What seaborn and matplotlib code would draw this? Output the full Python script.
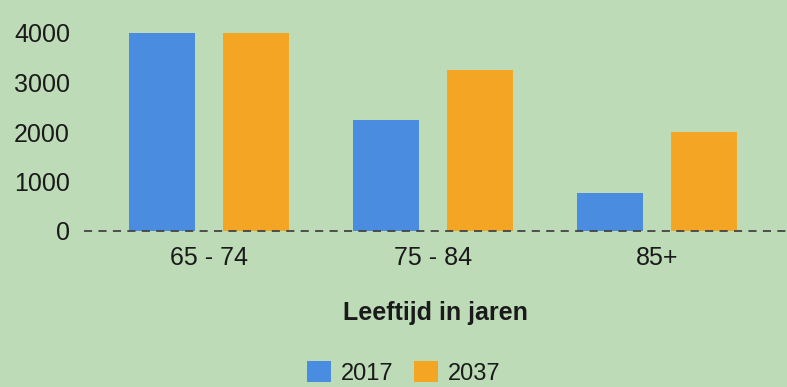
import matplotlib
matplotlib.use("Agg")
import matplotlib.pyplot as plt
import seaborn as sns
import pandas as pd

categories = ["65 - 74", "75 - 84", "85+"]
years = ["2017", "2037"]
values_2017 = [4000, 2250, 770]
values_2037 = [4000, 3250, 2000]
y_ticks = [0, 1000, 2000, 3000, 4000]

df = pd.DataFrame({
    "cat": categories * 2,
    "year": [years[0]] * 3 + [years[1]] * 3,
    "value": values_2017 + values_2037,
})

sns.set_theme(style="white")
plt.rcParams["font.family"] = ["Liberation Sans", "DejaVu Sans"]

bg = "#bddbb7"
W, H = 787, 387
fig = plt.figure(figsize=(W / 100, H / 100), dpi=100, facecolor=bg)
ax = fig.add_axes([84 / W, (H - 231) / H, (W - 84) / W, (231 - 33) / H])
ax.set_facecolor(bg)

palette = {"2017": "#4a8de0", "2037": "#f4a524"}
sns.barplot(data=df, x="cat", y="value", hue="year", order=categories,
            hue_order=years, palette=palette, width=0.84, gap=0.3,
            saturation=1, ax=ax, legend=False)
for p in ax.patches:
    p.set_clip_on(False)
    p.set_linewidth(0)

ax.set_xlim(-0.558, (W - 209) / 224)
ax.set_ylim(0, 4000)
ax.set_yticks(y_ticks)
ax.set_yticklabels([str(v) for v in y_ticks], fontsize=18, color="#1a1a1a")
ax.tick_params(axis="y", length=0, pad=10)
ax.tick_params(axis="x", length=0, pad=11, labelsize=18, colors="#1a1a1a")
for s in ax.spines.values():
    s.set_visible(False)
ax.axhline(0, color="#444444", lw=1.3, ls=(0, (4.5, 3.5)), zorder=5, clip_on=False)
ax.set_xlabel("Leeftijd in jaren", fontsize=18, fontweight="bold",
              color="#1a1a1a", labelpad=22)
ax.set_ylabel("")

from matplotlib.patches import Patch
handles = [Patch(facecolor=palette[y], edgecolor="none", label=y) for y in years]
fig.legend(handles=handles, loc="center", bbox_to_anchor=(404 / W, 1 - 373 / H),
           ncol=2, frameon=False, fontsize=17, handlelength=1.0, handleheight=1.0,
           handletextpad=0.45, columnspacing=0.85, labelcolor="#1a1a1a",
           borderaxespad=0, borderpad=0)

fig.savefig("out.png", dpi=100, facecolor=bg)
